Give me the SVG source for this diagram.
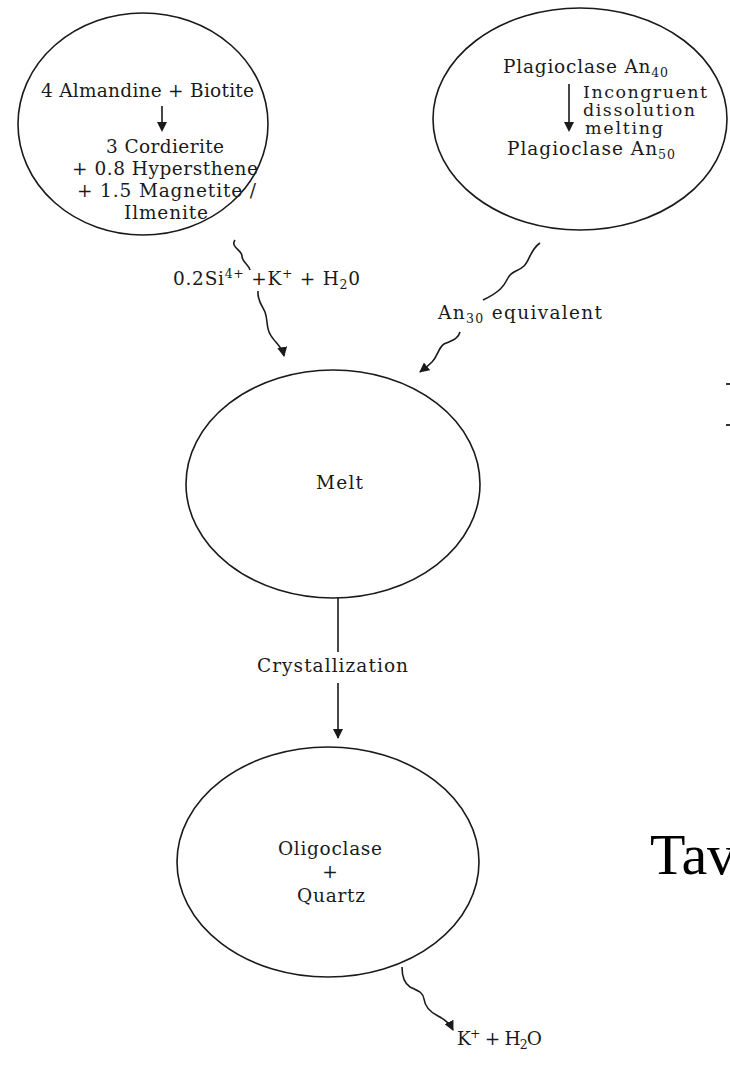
<svg xmlns="http://www.w3.org/2000/svg" width="730" height="1067" viewBox="0 0 730 1067">
<style>
.n{fill:none;stroke:#1a1a1a;stroke-width:1.6}
.t{font-family:"DejaVu Serif","Liberation Serif",serif;font-size:18.5px;fill:#1a1a1a}
.s{font-size:17.5px}
.c{stroke:#1a1a1a;stroke-width:1.6;fill:none}
.sub{font-size:12.5px}
</style>
<defs>
<marker id="ahL" viewBox="0 0 10 10" refX="9" refY="5" markerWidth="10" markerHeight="10" markerUnits="userSpaceOnUse" orient="auto">
<path d="M0,0 L10,5 L0,10 Z" fill="#1a1a1a"/>
</marker>
</defs>
<rect width="730" height="1067" fill="#fff"/>

<g id="node-reaction1">
<ellipse class="n" cx="143" cy="124" rx="125" ry="111"/>
<text class="t" x="41" y="97" textLength="213" lengthAdjust="spacing">4 Almandine +  Biotite</text>
<line class="c" x1="162" y1="106" x2="162" y2="124"/>
<path d="M157,122 L167,122 L162,132 Z" fill="#1a1a1a"/>
<text class="t" x="106" y="153" textLength="118" lengthAdjust="spacing">3 Cordierite</text>
<text class="t" x="72" y="175" textLength="186" lengthAdjust="spacing">+ 0.8 Hypersthene</text>
<text class="t" x="77" y="197" textLength="179" lengthAdjust="spacing">+ 1.5 Magnetite /</text>
<text class="t" x="124" y="219" textLength="84" lengthAdjust="spacing">Ilmenite</text>
</g>

<g id="node-reaction2">
<ellipse class="n" cx="580" cy="119" rx="147" ry="111"/>
<text class="t" x="503" y="73" textLength="165" lengthAdjust="spacing">Plagioclase An<tspan class="sub" dy="4">40</tspan></text>
<line class="c" x1="569" y1="84" x2="569" y2="124"/>
<path d="M564,122 L574,122 L569,132 Z" fill="#1a1a1a"/>
<text class="t s" x="583" y="98" textLength="124" lengthAdjust="spacing">Incongruent</text>
<text class="t s" x="583" y="116" textLength="112" lengthAdjust="spacing">dissolution</text>
<text class="t s" x="585" y="134" textLength="78" lengthAdjust="spacing">melting</text>
<text class="t" x="507" y="155" textLength="168" lengthAdjust="spacing">Plagioclase An<tspan class="sub" dy="4">50</tspan></text>
</g>

<g id="node-melt">
<ellipse class="n" cx="333" cy="484" rx="147" ry="114"/>
<text class="t" x="316" y="489" textLength="47" lengthAdjust="spacing">Melt</text>
</g>

<g id="node-product">
<ellipse class="n" cx="328" cy="862" rx="151" ry="115"/>
<text class="t" x="278" y="855" textLength="104" lengthAdjust="spacing">Oligoclase</text>
<text class="t" x="330" y="878" text-anchor="middle">+</text>
<text class="t" x="297" y="902" textLength="68" lengthAdjust="spacing">Quartz</text>
</g>

<g id="connectors">
<path class="c" d="M235,240 C230,247 242,250 242,256 C242,262 249,265 250,270"/>
<path class="c" d="M258,291 C257,300 262,305 265,312 C268,320 266,327 270,334 C274,342 282,346 284,356" marker-end="url(#ahL)"/>
<path class="c" d="M540,243 C530,250 530,260 524,266 C518,272 512,270 508,278 C504,286 500,292 483,300"/>
<path class="c" d="M460,332 C458,340 450,341 444,344 C438,348 438,356 432,362 C428,366 425,368 420,372" marker-end="url(#ahL)"/>
<line class="c" x1="338" y1="598" x2="338" y2="652"/>
<line class="c" x1="338" y1="683" x2="338" y2="738" marker-end="url(#ahL)"/>
<path class="c" d="M402,967 C402,976 404,983 410,987 C418,991 423,992 424,999 C425,1007 430,1012 438,1016 C446,1020 450,1024 453,1030" marker-end="url(#ahL)"/>
</g>

<g id="labels">
<text class="t" x="173" y="285" textLength="187" lengthAdjust="spacing">0.2Si<tspan class="sub" dy="-7">4+</tspan><tspan dy="7"> +K</tspan><tspan class="sub" dy="-7">+</tspan><tspan dy="7"> + H</tspan><tspan class="sub" dy="4">2</tspan><tspan dy="-4">0</tspan></text>
<text class="t" x="438" y="319" textLength="164" lengthAdjust="spacing">An<tspan class="sub" dy="4">30</tspan><tspan dy="-4"> equivalent</tspan></text>
<text class="t" x="257" y="672" textLength="151" lengthAdjust="spacing">Crystallization</text>
<text class="t" x="457" y="1045" textLength="85" lengthAdjust="spacing">K<tspan class="sub" dy="-7">+</tspan><tspan dy="7"> + H</tspan><tspan class="sub" dy="4">2</tspan><tspan dy="-4">O</tspan></text>
</g>

<text x="650" y="874" font-family="Liberation Serif, serif" font-size="58" fill="#000">Tav</text>
<rect x="726" y="383" width="4" height="2" fill="#333"/>
<rect x="726" y="424" width="4" height="2" fill="#333"/>
</svg>
